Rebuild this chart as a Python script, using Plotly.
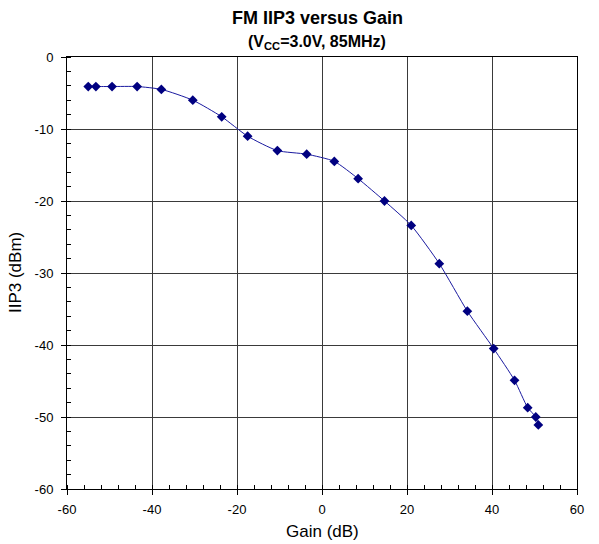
import plotly.graph_objects as go

gain_db = [-55.0, -53.2, -49.4, -43.5, -37.8, -30.4, -23.6, -17.5, -10.5, -3.6,
           2.9, 8.5, 14.7, 21.0, 27.6, 34.2, 40.4, 45.3, 48.4, 50.3, 50.9]
iip3_dbm = [-4.1, -4.1, -4.1, -4.1, -4.5, -6.0, -8.3, -11.0, -13.0, -13.5,
            -14.5, -16.9, -20.0, -23.4, -28.7, -35.3, -40.5, -44.9, -48.7, -50.0, -51.1]

x_ticks = [-60, -40, -20, 0, 20, 40, 60]
y_ticks = [0, -10, -20, -30, -40, -50, -60]

fig = go.Figure()
fig.add_trace(go.Scatter(
    x=gain_db, y=iip3_dbm, mode="lines+markers",
    line=dict(color="#1a1aa0", width=1, shape="spline", smoothing=0.6),
    marker=dict(symbol="diamond", size=7.5, color="#000080"),
    showlegend=False,
))

font_family = "Liberation Sans, Arial, sans-serif"

fig.update_layout(
    width=599, height=544,
    margin=dict(l=67, r=22, t=57, b=55),
    paper_bgcolor="white", plot_bgcolor="white",
    font=dict(family=font_family, size=13, color="black"),
    xaxis=dict(
        range=[-60, 60], tickvals=x_ticks, ticktext=[str(v) for v in x_ticks],
        showgrid=True, gridcolor="#3a3a3a", gridwidth=1.2,
        showline=True, linecolor="black", linewidth=1, mirror=True,
        ticks="outside", ticklen=5, tickcolor="black", ticklabelstandoff=3,
        minor=dict(dtick=4, ticks="inside", ticklen=4, tickcolor="black", showgrid=False),
        zeroline=False,
        tickfont=dict(size=13),
    ),
    yaxis=dict(
        range=[-60, 0], tickvals=y_ticks, ticktext=[str(v) for v in y_ticks],
        showgrid=True, gridcolor="#3a3a3a", gridwidth=1.2,
        showline=True, linecolor="black", linewidth=1, mirror=True,
        ticks="outside", ticklen=5, tickcolor="black", ticklabelstandoff=5,
        minor=dict(dtick=2, ticks="inside", ticklen=4, tickcolor="black", showgrid=False),
        zeroline=False,
        tickfont=dict(size=13),
    ),
    annotations=[
        dict(text="<b>FM IIP3 versus Gain</b>", xref="paper", yref="paper",
             x=(317 - 67) / 510, y=(489 - 18) / 432, xanchor="center", yanchor="middle",
             showarrow=False, font=dict(size=18, family=font_family, color="black")),
        dict(text="<b>(V<sub>CC</sub>=3.0V, 85MHz)</b>", xref="paper", yref="paper",
             x=(317 - 67) / 510, y=(489 - 43) / 432, xanchor="center", yanchor="middle",
             showarrow=False, font=dict(size=16, family=font_family, color="black")),
        dict(text="Gain (dB)", xref="paper", yref="paper",
             x=0.5, y=(489 - 531) / 432, xanchor="center", yanchor="middle",
             showarrow=False, font=dict(size=17, family=font_family, color="black")),
        dict(text="IIP3 (dBm)", xref="paper", yref="paper",
             x=(15 - 67) / 510, y=0.5, xanchor="center", yanchor="middle",
             textangle=-90, showarrow=False,
             font=dict(size=17, family=font_family, color="black")),
    ],
)

fig.write_html("out.html")
